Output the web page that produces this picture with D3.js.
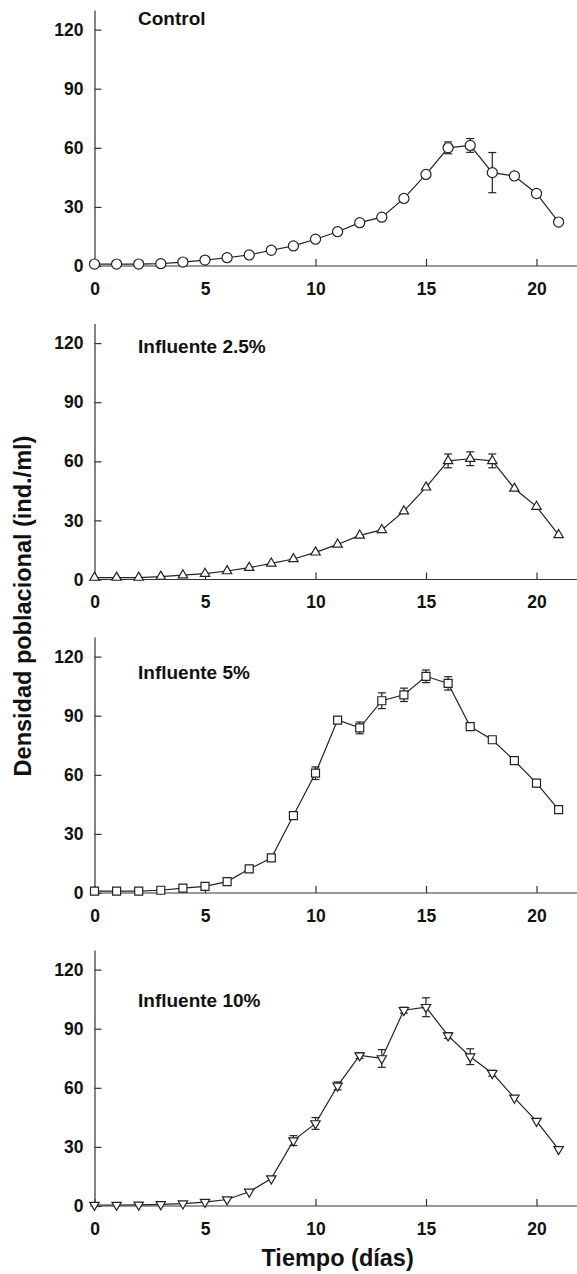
<!DOCTYPE html>
<html>
<head>
<meta charset="utf-8">
<script src="https://cdn.jsdelivr.net/npm/d3@7"></script>
<style>
  body { margin: 0; background: #fff; }
  svg { display: block; font-family: "Liberation Sans", Arial, sans-serif; }
  .tick text { font-weight: bold; }
</style>
</head>
<body>
<script>
//days of the experiment
var days = d3.range(0, 22);

//panel titles
var titles = ["Control", "Influente 2.5%", "Influente 5%", "Influente 10%"];

//mean density per day (ind./ml)
var control = [1, 1, 1, 1.2, 2, 3, 4.2, 5.6, 8, 10.2, 13.6, 17.4, 22, 24.8, 34.3, 46.5, 60, 61.2, 47.4, 45.7, 36.8, 22.3];
var inf25 = [1, 1, 1, 1.5, 2.2, 3, 4.3, 6, 8.2, 10.4, 13.8, 17.8, 22.4, 25.2, 34.7, 46.8, 60.2, 61.3, 60.2, 46.2, 37, 22.6];
var inf5 = [1, 1, 1, 1.4, 2.5, 3.4, 5.8, 12.2, 17.8, 39.3, 60.8, 87.8, 83.8, 97.6, 100.6, 110, 106.4, 84.5, 77.8, 67.2, 55.8, 42.3];
var inf10 = [0.5, 0.5, 0.6, 0.8, 1.2, 2, 3.3, 7.2, 13.9, 33.2, 41.9, 61, 76.4, 74.9, 99.4, 100.9, 86.5, 75.8, 67.4, 54.9, 43.1, 28.8];

//standard error per day (0 = hidden behind the marker)
var controlErr = [0, 0, 0, 0, 0, 0, 0, 0, 0, 0, 0, 0, 0, 0, 0, 0, 3, 3.5, 10.2, 0, 0, 0];
var inf25Err = [0, 0, 0, 0, 0, 0, 0, 0, 0, 0, 0, 0, 0, 0, 0, 0, 3.5, 3.5, 3.5, 0, 0, 0];
var inf5Err = [0, 0, 0, 0, 0, 0, 0, 0, 0, 0, 3.2, 1.5, 3, 4, 3.4, 3.2, 3.4, 1.5, 0, 0, 0, 0];
var inf10Err = [0, 0, 0, 0, 0, 0, 0, 0, 0, 2.5, 3, 2, 1.5, 4.5, 1.5, 4.8, 1.5, 4, 1.5, 0, 0, 0];

//axis ticks
var xTicks = [0, 5, 10, 15, 20];
var yTicks = [0, 30, 60, 90, 120];

var series = [control, inf25, inf5, inf10];
var errors = [controlErr, inf25Err, inf5Err, inf10Err];

//layout
var width = 577,
    height = 1274,
    panelZero = [266, 579.5, 893, 1206], //y of the zero line in each panel
    titleOffset = [241, 227, 214, 199];   //title baseline above the zero line

var svg = d3.select("body")
    .append("svg")
    .attr("width", width)
    .attr("height", height);

svg.append("rect")
    .attr("width", width)
    .attr("height", height)
    .attr("fill", "#fff");

var x = d3.scaleLinear()
    .domain([0, 22])
    .range([94.5, 94.5 + 22 * 22.1]);

var symbols = [
    d3.symbol().type(d3.symbolCircle).size(80)(),
    d3.symbol().type(d3.symbolTriangle).size(38)(),
    d3.symbol().type(d3.symbolSquare).size(64)(),
    d3.symbol().type(d3.symbolTriangle).size(38)()
];

series.forEach(function(values, i){
    var zero = panelZero[i];

    var y = d3.scaleLinear()
        .domain([0, 130])
        .range([zero, zero - 130 * 1.97]);

    var g = svg.append("g");

    //x axis
    var xAxis = g.append("g")
        .attr("transform", "translate(0," + zero + ")")
        .call(d3.axisBottom(x).tickValues(xTicks).tickSizeInner(-7).tickSizeOuter(0).tickPadding(16.5));
    xAxis.select(".domain").attr("d", "M90,0H" + width);

    //y axis
    g.append("g")
        .attr("transform", "translate(" + x(0) + ",0)")
        .call(d3.axisLeft(y).tickValues(yTicks).tickSizeInner(-7).tickSizeOuter(0).tickPadding(11));

    g.selectAll(".tick text")
        .attr("font-size", 17.5)
        .attr("fill", "#111");
    g.selectAll(".domain, .tick line")
        .attr("stroke", "#333")
        .attr("stroke-width", 1.2);

    //panel title
    g.append("text")
        .attr("x", 138)
        .attr("y", zero - titleOffset[i])
        .attr("font-size", 19)
        .attr("font-weight", "bold")
        .attr("fill", "#111")
        .text(titles[i]);

    //connecting line
    var line = d3.line()
        .x(function(d, k){ return x(days[k]); })
        .y(function(d){ return y(d); });

    g.append("path")
        .datum(values)
        .attr("d", line)
        .attr("fill", "none")
        .attr("stroke", "#222")
        .attr("stroke-width", 1.2);

    //error bars
    var err = errors[i];
    var bars = g.selectAll(".err")
        .data(days.filter(function(k){ return err[k] > 0; }))
        .enter()
        .append("g")
        .attr("class", "err")
        .attr("stroke", "#222")
        .attr("stroke-width", 1.2);

    bars.append("line")
        .attr("x1", function(k){ return x(k); })
        .attr("x2", function(k){ return x(k); })
        .attr("y1", function(k){ return y(values[k] - err[k]); })
        .attr("y2", function(k){ return y(values[k] + err[k]); });
    bars.append("line")
        .attr("x1", function(k){ return x(k) - 4; })
        .attr("x2", function(k){ return x(k) + 4; })
        .attr("y1", function(k){ return y(values[k] + err[k]); })
        .attr("y2", function(k){ return y(values[k] + err[k]); });
    bars.append("line")
        .attr("x1", function(k){ return x(k) - 4; })
        .attr("x2", function(k){ return x(k) + 4; })
        .attr("y1", function(k){ return y(values[k] - err[k]); })
        .attr("y2", function(k){ return y(values[k] - err[k]); });

    //markers
    g.selectAll(".mark")
        .data(values)
        .enter()
        .append("path")
        .attr("class", "mark")
        .attr("d", symbols[i])
        .attr("transform", function(d, k){
            return "translate(" + x(days[k]) + "," + y(d) + ")" + (i === 3 ? " rotate(180)" : "");
        })
        .attr("fill", "#fff")
        .attr("stroke", "#222")
        .attr("stroke-width", 1.2);
});

//axis titles
svg.append("text")
    .attr("transform", "translate(31,606) rotate(-90)")
    .attr("text-anchor", "middle")
    .attr("font-size", 23.5)
    .attr("font-weight", "bold")
    .attr("fill", "#111")
    .text("Densidad poblacional (ind./ml)");

svg.append("text")
    .attr("x", x(11))
    .attr("y", 1266)
    .attr("text-anchor", "middle")
    .attr("font-size", 23.5)
    .attr("font-weight", "bold")
    .attr("fill", "#111")
    .text("Tiempo (días)");
</script>
</body>
</html>
